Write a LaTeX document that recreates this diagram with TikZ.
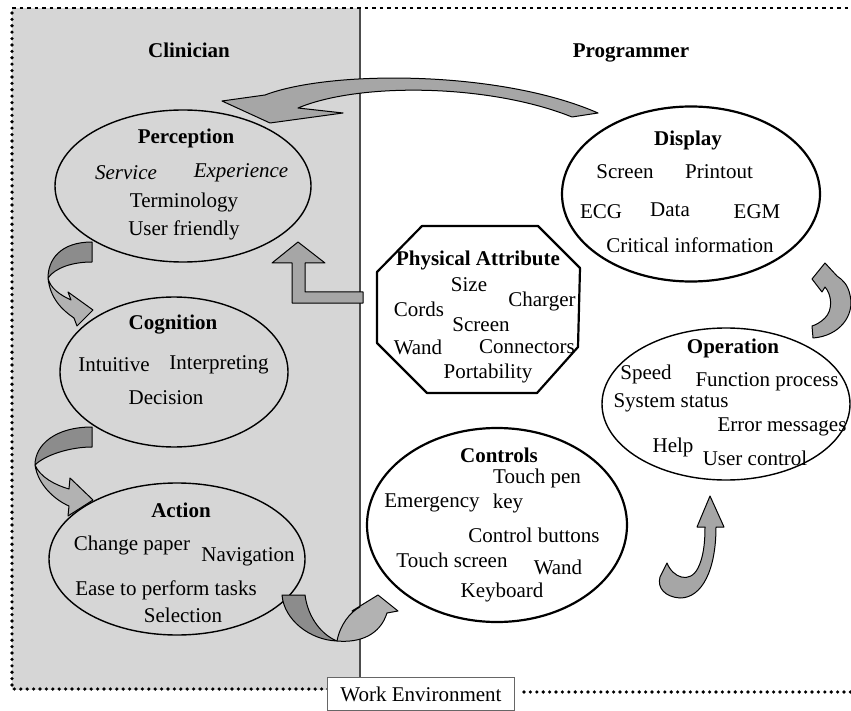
\documentclass[tikz,border=0pt]{standalone}
\usepackage{fontspec}
\setmainfont{Liberation Serif}
\usetikzlibrary{shapes.geometric}
\definecolor{panelgray}{gray}{0.84}
\definecolor{arrowgray}{gray}{0.65}
\definecolor{arrowdark}{gray}{0.55}
\definecolor{arrowlight}{gray}{0.70}
\begin{document}
\begin{tikzpicture}[x=1pt,y=-1pt,font=\fontsize{21}{25}\selectfont,
  bubble/.style={draw,ellipse,line width=1.4pt,inner sep=0pt},
  title/.style={font=\fontsize{21}{25}\selectfont\bfseries},
  blockarrow/.style={draw,line width=1pt,line join=round,fill=arrowgray},
  dotline/.style={line width=3.6pt,line cap=round,dash pattern=on 0pt off 6.4pt}]
\useasboundingbox (0,0) rectangle (851,711);
\fill[white] (0,0) rectangle (851,711);
\fill[panelgray] (12,8) rectangle (360,690);
\draw[black!70,line width=1.2pt] (360,8) -- (360,690);
\draw[line width=2.6pt,dash pattern=on 3.5pt off 4pt] (12,8) -- (851,8);
\draw[dotline] (328,689) -- (12,689) -- (12,8);
\draw[dotline] (524,692) -- (851,692);

\node[bubble,minimum width=256pt,minimum height=152pt] (perception) at (183,186) {};
\node[bubble,minimum width=228pt,minimum height=150pt] (cognition) at (174,372) {};
\node[bubble,minimum width=256pt,minimum height=152pt] (action) at (177,559) {};
\node[bubble,line width=2.2pt,fill=white,minimum width=258pt,minimum height=175pt] (display) at (691,194) {};
\node[bubble,fill=white,minimum width=248pt,minimum height=152pt] (operation) at (726,404) {};
\node[bubble,line width=2.2pt,fill=white,minimum width=260pt,minimum height=194pt] (controls) at (497,525) {};
\draw[line width=2.2pt,line join=round,fill=white] (422,226) -- (538,226) -- (580,268) -- (578,347)
  -- (537,393) -- (427,393) -- (377,343) -- (377,272) -- cycle;
\coordinate (physical) at (478,310);

\foreach \n/\x/\y/\t in {clinician/189/50/Clinician, programmer/631/53/Programmer,
  perctitle/186/138/Perception, cogtitle/173/325/Cognition, acttitle/181/510/Action,
  disptitle/688/140/Display, phystitle/478/260/Physical Attribute,
  optitle/733/348/Operation, ctrltitle/499/455/Controls}
  \node[title] (\n) at (\x,\y) {\t};

\foreach \n/\x/\y/\t in {service/126/173/\textit{Service}, experience/241/173/\textit{Experience},
  terminology/184/202/Terminology, userfriendly/184/230/User friendly,
  intuitive/114/365/Intuitive, interpreting/219/365/Interpreting, decision/166/398/Decision,
  changepaper/132/545/Change paper, navigation/248/557/Navigation,
  ease/166/590/Ease to perform tasks, selection/183/615/Selection,
  dispscreen/625/172/Screen, printout/719/172/Printout, ecg/601/212/ECG, data/670/210/Data,
  egm/757/212/EGM, critical/690/245/Critical information,
  size/469/285/Size, charger/542/301/Charger, cords/419/309/Cords, physscreen/481/325/Screen,
  physwand/418/347/Wand, connectors/527/347/Connectors, portability/488/373/Portability,
  speed/646/374/Speed, function/767/382/Function process, status/671/403/System status,
  errors/782/427/Error messages, help/673/447/Help, usercontrol/755/458/User control,
  touchpen/537/478/Touch pen, emergency/432/503/Emergency, key/508/503/key,
  buttons/534/535/Control buttons, touchscreen/452/560/Touch screen, ctrlwand/558/567/Wand,
  keyboard/502/592/Keyboard}
  \node (\n) at (\x,\y) {\t};

\node[draw=black!60,line width=0.8pt,fill=white,minimum width=187pt,minimum height=33pt] (workenv) at (421,694) {Work Environment};

\draw[blockarrow] (222,101) -- (265,95) .. controls (330,70) and (500,70) .. (598,113) -- (572,117)
  .. controls (490,84) and (360,82) .. (298,108) -- (343,113) -- (270,123) -- cycle;
\draw[blockarrow,fill=arrowdark] (92,242) .. controls (60,242) and (48,260) .. (48,278)
  .. controls (55,268) and (72,262) .. (92,262) -- cycle;
\draw[blockarrow,fill=arrowlight] (48,278) .. controls (50,298) and (62,310) .. (74,318) -- (77,326)
  -- (93,310) -- (68,292) -- (71,300) .. controls (60,295) and (50,288) .. (48,278) -- cycle;
\draw[blockarrow,fill=arrowdark] (92,427) .. controls (55,427) and (35,445) .. (35,465)
  .. controls (45,455) and (70,447) .. (92,447) -- cycle;
\draw[blockarrow,fill=arrowlight] (35,465) .. controls (38,485) and (55,500) .. (69,506) -- (68,516)
  -- (93,500) -- (70,478) -- (69,489) .. controls (55,485) and (40,477) .. (35,465) -- cycle;
\draw[blockarrow,fill=arrowdark] (282,595) -- (305,595) .. controls (308,618) and (322,635) .. (337,641)
  .. controls (310,640) and (284,620) .. (282,595) -- cycle;
\draw[blockarrow,fill=arrowlight] (337,641) .. controls (340,625) and (350,612) .. (360,607) -- (352,611)
  -- (378,595) -- (398,611) -- (387,613) .. controls (380,635) and (360,643) .. (337,641) -- cycle;
\draw[blockarrow] (298,242) -- (325,263) -- (305,263) -- (305,292) -- (363,292) -- (363,303)
  -- (292,303) -- (292,263) -- (272,263) -- cycle;
\draw[blockarrow] (710,496) -- (724,527) -- (716,527) .. controls (716,570) and (702,598) .. (680,598)
  .. controls (665,597) and (657,588) .. (660,577) -- (667,563) .. controls (673,578) and (690,584) .. (698,568)
  .. controls (703,558) and (705,545) .. (705,527) -- (697,527) -- cycle;
\draw[blockarrow] (813,338) .. controls (840,336) and (855,315) .. (850,295) .. controls (848,285) and (843,280) .. (837,276)
  -- (825,263) -- (812,279) -- (822,292) -- (825,287) .. controls (832,295) and (833,310) .. (825,318)
  .. controls (820,323) and (815,325) .. (812,326) -- cycle;
\end{tikzpicture}
\end{document}
